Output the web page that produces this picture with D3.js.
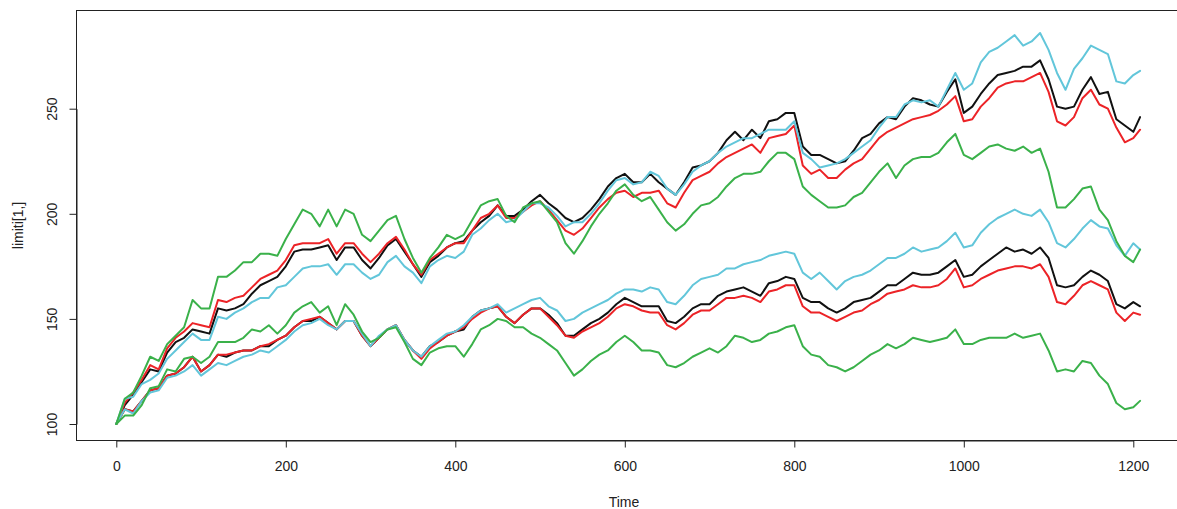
<!DOCTYPE html>
<html>
<head>
<meta charset="utf-8">
<script src="https://cdn.jsdelivr.net/npm/d3@7"></script>
<style>
  html, body { margin: 0; padding: 0; background: #ffffff; }
  svg { display: block; font-family: "Liberation Sans", Arial, Helvetica, sans-serif; }
</style>
</head>
<body>
<svg id="chart" width="1177" height="509"></svg>
<script>
// Sampled time steps (every 10 steps, plus the final step)
const time = d3.range(0, 1201, 10).concat([1208]);

// Upper limit paths
const upperBlack = [
  100,109,114,120,126,125,134,139,141,145,
  144,143,155,154,155,157,162,166,168,170,
  175,182,183,183,184,185,178,184,184,178,
  174,179,185,188,182,176,170,177,180,184,
  186,187,192,196,199,204,199,199,202,206,
  209,205,202,198,196,198,202,207,213,217,
  219,215,215,219,215,212,209,215,222,223,
  225,229,235,239,235,240,236,244,245,248,
  248,232,228,228,226,224,225,230,236,238,
  243,246,245,251,255,254,252,251,258,264,
  248,251,257,262,266,267,268,270,270,273,
  264,251,250,251,259,265,257,258,245,242,
  239,246
];
const upperRed = [
  100,110,115,121,128,126,136,141,144,148,
  147,146,159,158,160,161,165,169,171,173,
  178,185,186,186,186,188,181,186,186,181,
  177,181,186,189,183,176,171,178,181,184,
  186,186,192,198,200,204,198,198,201,204,
  206,202,197,192,190,193,198,203,207,210,
  211,208,210,210,211,205,203,210,216,218,
  220,224,227,229,231,233,229,236,237,238,
  242,223,219,221,217,217,221,224,226,231,
  236,239,241,243,245,246,247,249,252,256,
  244,245,251,255,260,262,263,263,265,267,
  258,244,242,246,255,259,252,250,241,234,
  236,240
];
const upperGreen = [
  100,112,115,123,132,130,138,142,146,159,
  155,155,170,170,173,177,177,181,181,180,
  188,195,202,200,194,202,194,202,200,190,
  187,192,197,199,188,179,172,179,184,190,
  188,190,197,204,206,207,199,196,203,205,
  206,201,196,186,181,187,194,200,205,211,
  214,209,206,208,202,196,192,195,200,204,
  205,208,213,217,219,219,220,225,229,229,
  226,213,209,206,203,203,204,208,210,215,
  220,224,217,223,226,227,227,229,234,238,
  228,226,229,232,233,231,230,232,229,231,
  220,203,203,207,212,213,202,197,187,180,
  177,183
];
const upperCyan = [
  100,112,113,119,121,124,131,135,139,143,
  140,140,151,150,153,155,158,160,160,165,
  166,170,174,175,175,176,171,176,176,172,
  169,171,177,180,175,172,167,175,178,180,
  179,182,190,193,197,200,196,197,201,205,
  205,203,199,194,196,196,200,205,211,216,
  217,214,215,220,218,212,209,214,220,223,
  225,229,232,234,236,236,238,240,240,240,
  244,229,226,222,223,224,226,229,232,235,
  241,246,246,252,254,253,254,251,259,267,
  259,262,272,277,279,282,285,280,282,286,
  278,267,259,269,274,280,278,276,263,262,
  266,268
];

// Lower limit paths
const lowerBlack = [
  100,107,106,111,116,117,123,124,127,132,
  125,128,133,132,134,135,135,137,137,140,
  142,146,149,149,151,148,145,149,149,142,
  137,141,145,147,140,135,132,137,139,142,
  144,145,151,154,155,156,151,148,152,155,
  155,152,148,142,142,145,148,150,153,157,
  160,158,156,156,156,149,148,151,155,157,
  157,161,163,164,165,163,161,167,168,170,
  169,160,158,158,155,153,155,158,159,160,
  163,166,166,169,172,171,171,172,175,178,
  170,171,175,178,181,184,182,183,181,184,
  179,166,165,166,170,173,171,168,157,155,
  158,156
];
const lowerRed = [
  100,107,106,111,116,117,123,124,127,132,
  125,128,133,133,134,135,135,137,138,140,
  142,146,149,150,151,148,145,149,149,142,
  137,141,145,147,140,135,131,136,139,142,
  144,146,150,153,155,156,151,148,152,155,
  155,151,147,142,141,144,146,148,151,155,
  157,156,154,153,153,147,145,148,152,154,
  154,157,160,160,161,160,158,163,164,166,
  166,156,153,153,151,149,151,153,154,157,
  159,162,163,164,166,165,165,166,169,174,
  165,166,169,171,173,174,175,175,174,176,
  170,158,157,161,166,168,166,164,153,149,
  153,152
];
const lowerGreen = [
  100,104,104,109,117,118,126,125,131,132,
  129,132,139,139,139,141,145,144,147,143,
  147,153,156,158,153,156,147,157,152,144,
  139,141,145,146,139,131,128,134,136,137,
  137,132,138,145,147,150,149,146,146,143,
  141,138,135,129,123,126,130,133,135,139,
  142,139,135,135,134,128,127,129,132,134,
  136,134,137,142,141,139,140,143,144,146,
  147,137,133,132,128,127,125,127,130,133,
  135,138,136,138,141,140,139,140,141,145,
  138,138,140,141,141,141,143,141,142,143,
  135,125,126,125,130,129,123,119,110,107,
  108,111
];
const lowerCyan = [
  100,107,105,111,115,116,122,123,125,128,
  123,126,129,128,130,132,133,135,134,137,
  140,144,147,148,150,147,145,149,149,143,
  137,142,145,147,140,135,132,137,140,143,
  144,147,151,154,155,157,153,155,157,159,
  160,156,154,149,150,153,155,157,159,162,
  164,164,163,165,164,158,157,161,166,169,
  170,171,174,174,176,177,178,180,181,182,
  181,172,169,172,168,164,168,170,171,173,
  176,179,179,181,184,182,183,184,187,191,
  184,185,191,195,198,200,202,200,199,202,
  196,186,184,188,193,197,194,193,185,180,
  186,183
];

const xTicks = [0, 200, 400, 600, 800, 1000, 1200];
const yTicks = [100, 150, 200, 250];
const xTitle = "Time";
const yTitle = "limiti[1,]";

const colors = { black: "#111111", red: "#EC2327", green: "#3AB14A", cyan: "#62C6DA" };

// Drawing order: black, red, cyan, green
const seriesList = [
  { values: upperBlack, color: colors.black },
  { values: lowerBlack, color: colors.black },
  { values: upperRed,   color: colors.red },
  { values: lowerRed,   color: colors.red },
  { values: upperCyan,  color: colors.cyan },
  { values: lowerCyan,  color: colors.cyan },
  { values: upperGreen, color: colors.green },
  { values: lowerGreen, color: colors.green }
];

const svg = d3.select("#chart");
const box = { left: 76.5, top: 10.5, right: 1181.5, bottom: 440.5 };

const x = d3.scaleLinear().domain([0, 1200]).range([116.3, 1133.3]);
const y = d3.scaleLinear().domain([100, 250]).range([424, 108.7]);

const line = d3.line()
  .x((d, i) => x(time[i]))
  .y(d => y(d));

svg.append("g")
  .attr("fill", "none")
  .attr("stroke-width", 2)
  .attr("stroke-linejoin", "round")
  .attr("stroke-linecap", "round")
  .selectAll("path")
  .data(seriesList)
  .join("path")
  .attr("stroke", d => d.color)
  .attr("d", d => line(d.values));

// Plot frame
svg.append("rect")
  .attr("x", box.left)
  .attr("y", box.top)
  .attr("width", box.right - box.left)
  .attr("height", box.bottom - box.top)
  .attr("fill", "none")
  .attr("stroke", "#222")
  .attr("stroke-width", 1);

// Bottom axis
const gx = svg.append("g")
  .attr("transform", `translate(0,${box.bottom})`)
  .call(d3.axisBottom(x).tickValues(xTicks).tickFormat(d3.format("d")).tickSize(7).tickSizeOuter(0));
gx.select(".domain").attr("stroke", "#222");
gx.selectAll(".tick line").attr("stroke", "#222");
gx.selectAll(".tick text")
  .attr("y", 25.2)
  .attr("dy", "0.35em")
  .attr("fill", "#222")
  .style("font-size", "14px")
  .style("font-family", "'Liberation Sans', Arial, sans-serif");

// Left axis with labels parallel to the axis
const gy = svg.append("g")
  .attr("transform", `translate(${box.left},0)`)
  .call(d3.axisLeft(y).tickValues(yTicks).tickFormat(d3.format("d")).tickSize(7).tickSizeOuter(0));
gy.select(".domain").attr("stroke", "#222");
gy.selectAll(".tick line").attr("stroke", "#222");
gy.selectAll(".tick text")
  .attr("x", null)
  .attr("dy", "0.35em")
  .attr("text-anchor", "middle")
  .attr("transform", "translate(-24.5,0) rotate(-90)")
  .attr("fill", "#222")
  .style("font-size", "14px")
  .style("font-family", "'Liberation Sans', Arial, sans-serif");

// Axis titles
svg.append("text")
  .attr("x", 624)
  .attr("y", 501.7)
  .attr("dy", "0.35em")
  .attr("text-anchor", "middle")
  .attr("fill", "#222")
  .style("font-size", "14px")
  .text(xTitle);

svg.append("text")
  .attr("transform", "translate(18.5,225.5) rotate(-90)")
  .attr("dy", "0.35em")
  .attr("text-anchor", "middle")
  .attr("fill", "#222")
  .style("font-size", "14px")
  .text(yTitle);
</script>
</body>
</html>
